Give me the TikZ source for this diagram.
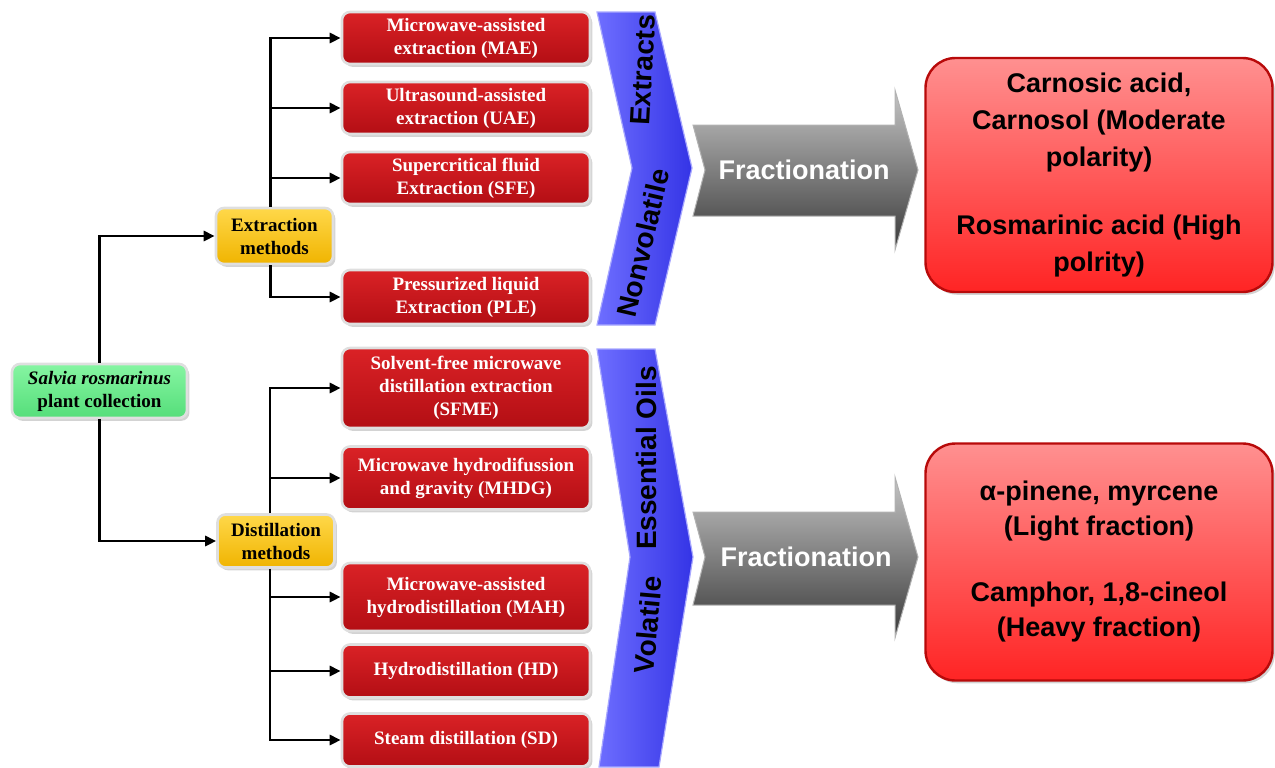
\documentclass[tikz,border=0pt]{standalone}
\usepackage{fontspec}
\setmainfont{Liberation Serif}
\newfontfamily\arialb{Liberation Sans}
\usetikzlibrary{arrows.meta,shadows}
\definecolor{mredT}{HTML}{DA2226}
\definecolor{mredB}{HTML}{B30E14}
\definecolor{yelT}{HTML}{FFD84A}
\definecolor{yelB}{HTML}{F0B400}
\definecolor{grnT}{HTML}{86F5A2}
\definecolor{grnB}{HTML}{55DE7A}
\definecolor{resT}{HTML}{FF9090}
\definecolor{resB}{HTML}{FF2424}
\definecolor{resD}{HTML}{B80A0A}
\definecolor{bluL}{HTML}{6E6EFF}
\definecolor{bluR}{HTML}{3434E6}
\definecolor{gryT}{HTML}{C4C4C4}
\definecolor{gryB}{HTML}{3A3A3A}
\begin{document}
\begin{tikzpicture}[x=0.5pt,y=-0.5pt,
  shade1/.style={drop shadow={opacity=0.35,shadow xshift=1.2pt,shadow yshift=-1.4pt}},
  method/.style={shade1,draw=gray!25,line width=1.3pt,rounded corners=4pt,
    top color=mredT,bottom color=mredB,text=white,
    font=\bfseries\fontsize{9.5}{11.5}\selectfont,align=center,
    minimum width=124pt,inner sep=1pt},
  group/.style={shade1,draw=gray!25,line width=1.3pt,rounded corners=4pt,
    top color=yelT,bottom color=yelB,text=black,
    font=\bfseries\fontsize{9.5}{11.5}\selectfont,align=center,
    minimum width=58.5pt,inner sep=1pt},
  rootbox/.style={shade1,draw=gray!25,line width=1.3pt,rounded corners=4pt,
    top color=grnT,bottom color=grnB,text=black,
    font=\bfseries\fontsize{9.5}{11.5}\selectfont,align=center,
    minimum width=87.5pt,minimum height=27pt,inner sep=1pt},
  result/.style={shade1,draw=resD,line width=1.2pt,rounded corners=15pt,
    top color=resT,bottom color=resB,text=black,
    font=\arialb\bfseries\fontsize{13.5}{18.5}\selectfont,align=center,
    minimum width=173.5pt,inner sep=2pt},
  chevtext/.style={font=\arialb\bfseries\fontsize{14}{16}\selectfont,text=black,inner sep=0pt},
  fractext/.style={font=\arialb\bfseries\fontsize{13.5}{16}\selectfont,text=white,inner sep=0pt},
  arr/.style={-{Triangle[length=5.5pt,width=5pt]},line width=1.4pt},
]
\useasboundingbox (0,0) rectangle (1275,767);

% root and group boxes
\node[rootbox] (root) at (99.5,391) {\textit{Salvia rosmarinus}\\plant collection};
\node[group,minimum height=28pt] (ext) at (274.5,236) {Extraction\\methods};
\node[group,minimum height=26.5pt] (dis) at (276,541) {Distillation\\methods};

% extraction methods
\node[method,minimum height=26pt] (mae) at (466,38) {Microwave-assisted\\extraction (MAE)};
\node[method,minimum height=26pt] (uae) at (466,108) {Ultrasound-assisted\\extraction (UAE)};
\node[method,minimum height=26pt] (sfe) at (466,178) {Supercritical fluid\\Extraction (SFE)};
\node[method,minimum height=27pt] (ple) at (466,297) {Pressurized liquid\\Extraction (PLE)};

% distillation methods
\node[method,minimum height=40pt] (sfme) at (466,388) {Solvent-free microwave\\distillation extraction\\(SFME)};
\node[method,minimum height=31.5pt] (mhdg) at (466,478) {Microwave hydrodifussion\\and gravity (MHDG)};
\node[method,minimum height=34pt] (mah) at (466,597) {Microwave-assisted\\hydrodistillation (MAH)};
\node[method,minimum height=26.5pt] (hd) at (466,671) {Hydrodistillation (HD)};
\node[method,minimum height=26.5pt] (sd) at (466,740) {Steam distillation (SD)};

% connectors
\draw[arr] (root.north) |- (ext.west);
\draw[arr] (root.south) |- (dis.west);
\draw[arr] ([xshift=-2pt]ext.north) |- (mae.west);
\draw[arr] ([xshift=-2pt]ext.north |- uae.west) -- (uae.west);
\draw[arr] ([xshift=-2pt]ext.north |- sfe.west) -- (sfe.west);
\draw[arr] ([xshift=-2pt]ext.south) |- (ple.west);
\draw[arr] ([xshift=-3pt]dis.north) |- (sfme.west);
\draw[arr] ([xshift=-3pt]dis.north |- mhdg.west) -- (mhdg.west);
\draw[arr] ([xshift=-3pt]dis.south) |- (sd.west);
\draw[arr] ([xshift=-3pt]dis.south |- mah.west) -- (mah.west);
\draw[arr] ([xshift=-3pt]dis.south |- hd.west) -- (hd.west);

% blue chevrons
\path[left color=bluL,right color=bluR,draw=bluL!60!white,line width=0.6pt]
  (597,12) -- (655,12) -- (692,168) -- (655,325) -- (597,325) -- (632,168) -- cycle;
\node[chevtext,rotate=87] (extracts) at (643,70) {Extracts};
\node[chevtext,rotate=77] (nonvol) at (643,243) {Nonvolatile};

\path[left color=bluL,right color=bluR,draw=bluL!60!white,line width=0.6pt]
  (597,349) -- (655,349) -- (693,557) -- (659,767) -- (599,767) -- (630,557) -- cycle;
\node[chevtext,rotate=90] (essoil) at (646,458) {Essential Oils};
\node[chevtext,rotate=85] (volat) at (648,625) {Volatile};

% fractionation arrows
\path[top color=gryT,bottom color=gryB,draw=gray!60,line width=0.5pt]
  (693,125) -- (895,125) -- (895,90) -- (918,170) -- (895,250) -- (895,216) -- (693,216) -- (705,170) -- cycle;
\node[fractext] (frac1) at (804,170) {Fractionation};
\path[top color=gryT,bottom color=gryB,draw=gray!60,line width=0.5pt]
  (693,512) -- (895,512) -- (895,477) -- (918,557) -- (895,638) -- (895,605) -- (693,605) -- (705,557) -- cycle;
\node[fractext] (frac2) at (806,557) {Fractionation};

% result boxes
\node[result,minimum height=117pt] (res1) at (1099,175)
  {Carnosic acid,\\Carnosol (Moderate\\polarity)\\[15.5pt]Rosmarinic acid (High\\polrity)};
\node[result,minimum height=118.5pt,font=\arialb\bfseries\fontsize{13.5}{17.5}\selectfont] (res2) at (1099,562)
  {α-pinene, myrcene\\(Light fraction)\\[15.5pt]Camphor, 1,8-cineol\\(Heavy fraction)};
\end{tikzpicture}
\end{document}
